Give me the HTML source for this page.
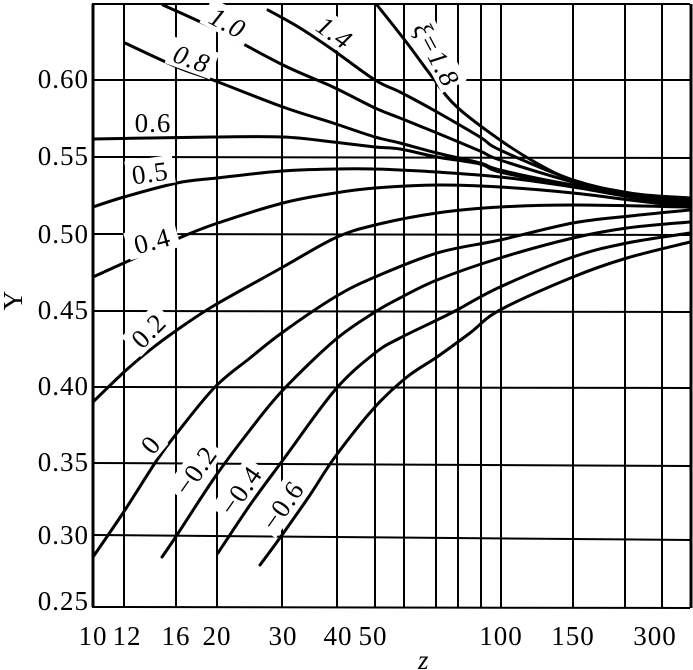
<!DOCTYPE html>
<html><head><meta charset="utf-8"><style>
html,body{margin:0;padding:0;background:#fff;}
svg{display:block;}
text{font-family:"Liberation Serif",serif;fill:#000;}
</style></head><body>
<svg id="s" width="693" height="670" viewBox="0 0 693 670" xmlns="http://www.w3.org/2000/svg">
<g stroke="#000" stroke-width="2" fill="none">
<line x1="124" y1="4" x2="124" y2="607"/>
<line x1="176" y1="4" x2="176" y2="607"/>
<line x1="217" y1="4" x2="217" y2="607"/>
<line x1="282" y1="4" x2="282" y2="607"/>
<line x1="337" y1="4" x2="337" y2="607"/>
<line x1="375" y1="4" x2="375" y2="607"/>
<line x1="404" y1="4" x2="404" y2="607"/>
<line x1="436" y1="4" x2="436" y2="607"/>
<line x1="458" y1="4" x2="458" y2="607"/>
<line x1="481" y1="4" x2="481" y2="607"/>
<line x1="501" y1="4" x2="501" y2="607"/>
<line x1="573" y1="4" x2="573" y2="607"/>
<line x1="625" y1="4" x2="625" y2="607"/>
<line x1="662" y1="4" x2="662" y2="607"/>
<line x1="92" y1="80" x2="690" y2="80"/>
<line x1="92" y1="157" x2="690" y2="158"/>
<line x1="92" y1="234" x2="690" y2="235"/>
<line x1="92" y1="311" x2="690" y2="312"/>
<line x1="92" y1="387" x2="690" y2="388"/>
<line x1="92" y1="463" x2="690" y2="466"/>
<line x1="92" y1="535" x2="690" y2="540"/>
<line x1="92" y1="4" x2="690" y2="4"/>
<line x1="92" y1="607" x2="690" y2="608"/>
<line x1="93" y1="4" x2="93" y2="607" stroke-width="3"/>
<line x1="691" y1="4" x2="691" y2="608" stroke-width="3"/>
</g>
<g id="curves" stroke="#000" stroke-width="3" fill="none" stroke-linejoin="round" stroke-linecap="round">
<polyline points="377,5 407,43 433,78 457,107 500,140 540,165 573,180 627,193 690,198"/>
<polyline points="268,10 300,28 333,50 375,80 400,92 437,112 480,137 500,150 573,180 630,193 690,200"/>
<polyline points="163,5 213,28 283,65 333,87 375,108 400,118 437,133 480,151 500,160 573,182 630,195 690,202"/>
<polyline points="125,43 177,67 213,80 283,107 333,123 375,137 400,143 437,153 480,163 500,170 573,185 690,203"/>
<polyline points="93,139 150,138 213,137 283,137 333,142 375,147 400,149 437,157 480,164 500,172 573,186 690,204"/>
<polyline points="93,207 124,197 177,183 217,178 282,171 335,169 375,169 400,170 437,172 500,177 573,187 630,197 690,205"/>
<polyline points="93,277 135,258 177,239 215,224 283,203 335,193 375,188 437,185 500,187 573,193 630,200 690,207"/>
<polyline points="93,402 123,373 150,350 177,330 215,305 283,267 335,238 375,225 437,213 500,207 573,205 690,207"/>
<polyline points="93,557 123,513 157,460 177,433 215,387 250,358 283,332 335,297 375,277 437,253 500,240 573,223 630,216 690,210"/>
<polyline points="162,557 177,535 215,477 250,430 283,390 335,340 375,312 400,298 437,280 500,258 573,238 627,228 690,222"/>
<polyline points="218,553 250,505 283,460 335,390 375,353 400,338 437,320 457,310 500,287 573,257 627,243 690,233"/>
<polyline points="260,565 282,535 310,495 335,457 375,407 407,377 437,357 470,333 500,310 573,277 627,258 690,242"/>
</g>
<g font-size="27" letter-spacing="1">
<rect x="203" y="8" width="50" height="28" fill="#fff" transform="rotate(28 228 22)"/>
<text x="228" y="32" text-anchor="middle" transform="rotate(28 228 22)" font-style="italic">1.0</text>
<rect x="310" y="18" width="50" height="28" fill="#fff" transform="rotate(35 335 32)"/>
<text x="335" y="42" text-anchor="middle" transform="rotate(35 335 32)" font-style="italic">1.4</text>
<rect x="400" y="40" width="74" height="28" fill="#fff" transform="rotate(62 437 54)"/>
<text x="437" y="64" text-anchor="middle" transform="rotate(62 437 54)" font-style="italic">ξ=1.8</text>
<rect x="168" y="44" width="48" height="28" fill="#fff" transform="rotate(20 192 58)"/>
<text x="192" y="68" text-anchor="middle" transform="rotate(20 192 58)" font-style="italic">0.8</text>
<text x="153" y="132" text-anchor="middle">0.6</text>
<rect x="126" y="158" width="48" height="28" fill="#fff" transform="rotate(-8 150 172)"/>
<text x="150" y="182" text-anchor="middle" transform="rotate(-8 150 172)">0.5</text>
<rect x="126" y="226" width="52" height="28" fill="#fff" transform="rotate(-15 152 240)"/>
<text x="152" y="250" text-anchor="middle" transform="rotate(-15 152 240)">0.4</text>
<rect x="124" y="316" width="48" height="28" fill="#fff" transform="rotate(-45 148 330)"/>
<text x="148" y="340" text-anchor="middle" transform="rotate(-45 148 330)">0.2</text>
<rect x="138" y="430" width="24" height="28" fill="#fff" transform="rotate(-50 150 444)"/>
<text x="150" y="454" text-anchor="middle" transform="rotate(-50 150 444)">0</text>
<rect x="164" y="456" width="62" height="28" fill="#fff" transform="rotate(-55 195 470)"/>
<text x="195" y="480" text-anchor="middle" transform="rotate(-55 195 470)">−0.2</text>
<rect x="209" y="476" width="62" height="28" fill="#fff" transform="rotate(-55 240 490)"/>
<text x="240" y="500" text-anchor="middle" transform="rotate(-55 240 490)">−0.4</text>
<rect x="251" y="491" width="62" height="28" fill="#fff" transform="rotate(-55 282 505)"/>
<text x="282" y="515" text-anchor="middle" transform="rotate(-55 282 505)">−0.6</text>
<g text-anchor="end">
<text x="89" y="88">0.60</text>
<text x="89" y="165">0.55</text>
<text x="89" y="243">0.50</text>
<text x="89" y="319">0.45</text>
<text x="89" y="395">0.40</text>
<text x="89" y="471">0.35</text>
<text x="89" y="544">0.30</text>
<text x="89" y="610">0.25</text>
</g>
<g text-anchor="middle">
<text x="93" y="645">10</text>
<text x="127" y="645">12</text>
<text x="176" y="645">16</text>
<text x="217" y="645">20</text>
<text x="283" y="645">30</text>
<text x="338" y="645">40</text>
<text x="373" y="645">50</text>
<text x="501" y="645">100</text>
<text x="573" y="645">150</text>
<text x="655" y="645">300</text>
</g>
<text x="418" y="669" font-style="italic">z</text>
<text x="22" y="300" text-anchor="middle" transform="rotate(-90 22 300)">Y</text>
</g>
</svg>
<script>
document.querySelectorAll('#curves polyline').forEach(function(pl){
var p=pl.getAttribute('points').trim().split(/\s+/).map(function(s){return s.split(',').map(Number);});
var d='M'+p[0][0]+','+p[0][1];
for(var i=0;i<p.length-1;i++){
var p0=p[i-1]||p[i],p1=p[i],p2=p[i+1],p3=p[i+2]||p2;
var c1x=p1[0]+(p2[0]-p0[0])/6,c1y=p1[1]+(p2[1]-p0[1])/6;
var c2x=p2[0]-(p3[0]-p1[0])/6,c2y=p2[1]-(p3[1]-p1[1])/6;
d+=' C'+c1x.toFixed(1)+','+c1y.toFixed(1)+' '+c2x.toFixed(1)+','+c2y.toFixed(1)+' '+p2[0]+','+p2[1];
}
var path=document.createElementNS('http://www.w3.org/2000/svg','path');
path.setAttribute('d',d);
pl.parentNode.replaceChild(path,pl);
});
</script>
</body></html>
